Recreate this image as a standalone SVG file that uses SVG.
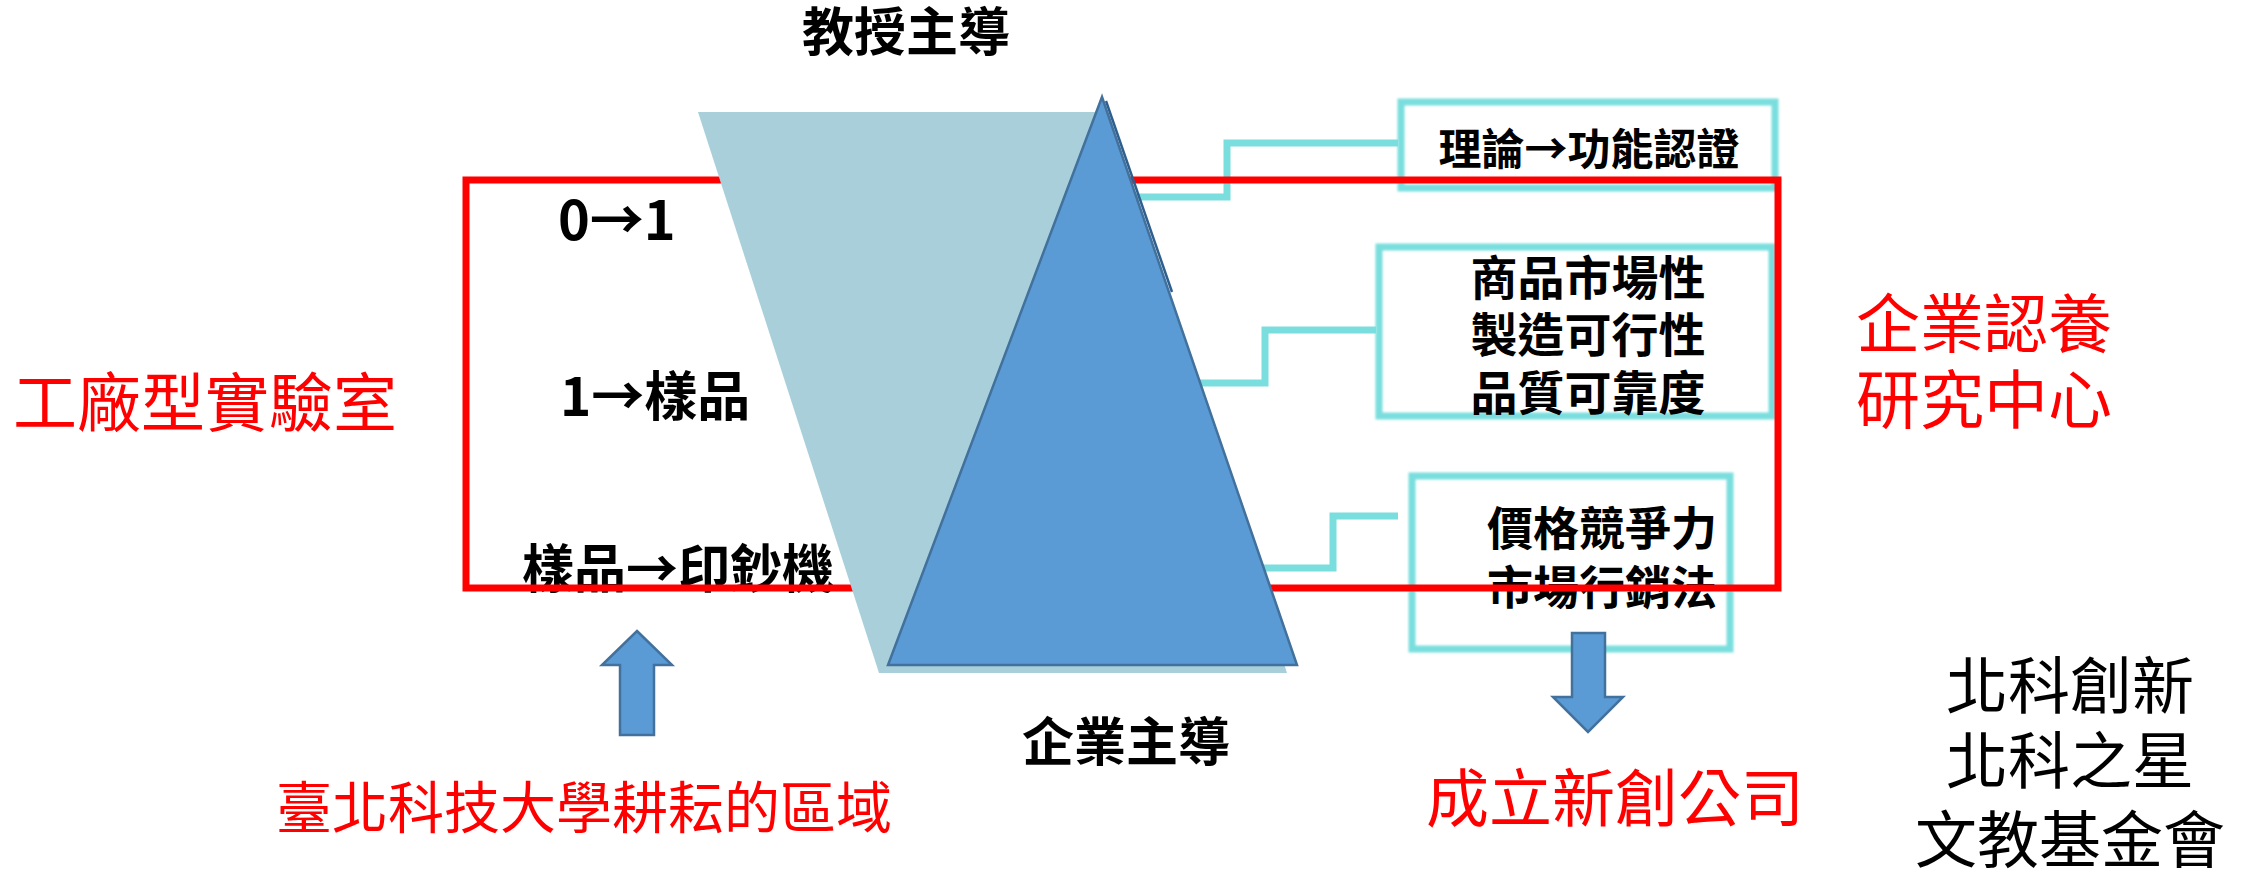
<svg xmlns="http://www.w3.org/2000/svg" width="2252" height="873" viewBox="0 0 2252 873">
<defs>
<filter id="glow" x="-5%" y="-10%" width="110%" height="120%"><feGaussianBlur stdDeviation="1.3"/></filter>
<style>
.bk{font-family:"Noto Sans CJK TC","Noto Sans CJK SC",sans-serif;font-weight:bold;fill:#000}
.rd{font-family:"Noto Sans CJK TC","Noto Sans CJK SC",sans-serif;fill:#FF0000}
.nm{font-family:"Noto Sans CJK TC","Noto Sans CJK SC",sans-serif;fill:#000}
.box{fill:none;stroke:#7ADEDE;stroke-width:7}
.conn{fill:none;stroke:#7ADEDE;stroke-width:7}
.arrow{fill:#5B9BD5;stroke:#41719C;stroke-width:2.5}
</style>
</defs>
<rect width="2252" height="873" fill="#fff"/>

<g id="box-theory">
<rect class="box" x="1401" y="102" width="374" height="86" filter="url(#glow)"/>
<text class="bk" x="1589" y="165" font-size="43" text-anchor="middle">理論→功能認證</text>
</g>
<g id="box-market">
<rect class="box" x="1379" y="247" width="393" height="169" filter="url(#glow)"/>
<text class="bk" x="1588" y="295" font-size="47" text-anchor="middle">商品市場性</text>
<text class="bk" x="1588" y="352" font-size="47" text-anchor="middle">製造可行性</text>
<text class="bk" x="1588" y="410" font-size="47" text-anchor="middle">品質可靠度</text>
</g>
<g id="box-price">
<rect class="box" x="1412" y="476" width="318" height="173" filter="url(#glow)"/>
<text class="bk" x="1602" y="545" font-size="46" text-anchor="middle">價格競爭力</text>
<text class="bk" x="1602" y="604" font-size="46" text-anchor="middle">市場行銷法</text>
</g>

<g id="connectors">
<polyline class="conn" points="1130,197 1227,197 1227,143 1398,143"/>
<polyline class="conn" points="1195,383 1265,383 1265,330 1376,330"/>
<polyline class="conn" points="1260,568 1333,568 1333,516 1398,516"/>
</g>

<g id="stages">
<text class="bk" x="558" y="240" font-size="54">0→1</text>
<text class="bk" x="560" y="416" font-size="53">1→樣品</text>
<text class="bk" x="522" y="588" font-size="52">樣品→印鈔機</text>
</g>

<g id="factory-lab-frame">
<rect x="466" y="180" width="1312" height="408" fill="none" stroke="#FF0000" stroke-width="7"/>
</g>

<g id="funnel">
<polygon points="698,112 1108,112 1287,673 879,673" fill="#A9D0DA"/>
<line x1="1106" y1="101" x2="1172" y2="292" stroke="#2F5F8F" stroke-width="2.5"/>
<polygon points="1102,97 1297,665 888,665" fill="#5B9BD5" stroke="#41719C" stroke-width="2.5"/>
</g>

<g id="label-professor"><text class="bk" x="906" y="51" font-size="52" text-anchor="middle">教授主導</text></g>
<g id="label-enterprise"><text class="bk" x="1126" y="761" font-size="52" text-anchor="middle">企業主導</text></g>

<g id="label-factory"><text class="rd" x="13" y="426" font-size="64">工廠型實驗室</text></g>
<g id="label-center">
<text class="rd" x="1856" y="347" font-size="64">企業認養</text>
<text class="rd" x="1856" y="423" font-size="64">研究中心</text>
</g>

<g id="arrow-up"><polygon class="arrow" points="637,631 672,665 654,665 654,735 620,735 620,665 602,665"/></g>
<g id="label-ntut"><text class="rd" x="276" y="828" font-size="56">臺北科技大學耕耘的區域</text></g>

<g id="arrow-down"><polygon class="arrow" points="1572,633 1605,633 1605,697 1623,697 1588,732 1553,697 1572,697"/></g>
<g id="label-startup"><text class="rd" x="1426" y="821" font-size="63">成立新創公司</text></g>

<g id="label-foundation">
<text class="nm" x="2070" y="709" font-size="62" text-anchor="middle">北科創新</text>
<text class="nm" x="2070" y="784" font-size="62" text-anchor="middle">北科之星</text>
<text class="nm" x="2070" y="863" font-size="62" text-anchor="middle">文教基金會</text>
</g>
</svg>
